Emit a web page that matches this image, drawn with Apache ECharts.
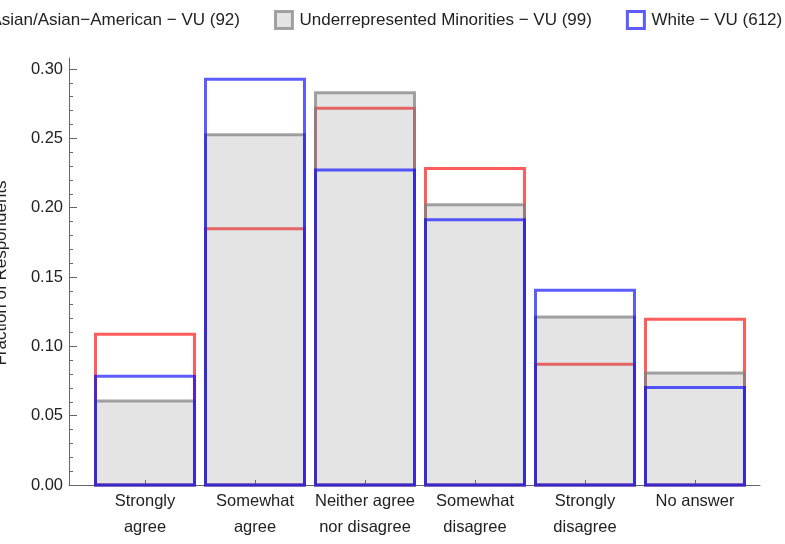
<!DOCTYPE html>
<html><head><meta charset="utf-8">
<script src="https://cdn.jsdelivr.net/npm/echarts@6/dist/echarts.min.js"></script>
<style>html,body{margin:0;padding:0;background:#fff}#c{width:785px;height:544px}</style>
</head><body><div id="c"></div>
<script>
const categories = ['Strongly\nagree', 'Somewhat\nagree', 'Neither agree\nnor disagree', 'Somewhat\ndisagree', 'Strongly\ndisagree', 'No answer'];
const categoryPositions = [0, 1, 2, 3, 4, 5];
const seriesNames = ['Asian/Asian\u2212American \u2212 VU (92)', 'Underrepresented Minorities \u2212 VU (99)', 'White \u2212 VU (612)'];
const asianValues = [0.1087, 0.1848, 0.2717, 0.2283, 0.0870, 0.1196];
const urmValues   = [0.0606, 0.2525, 0.2828, 0.2020, 0.1212, 0.0808];
const whiteValues = [0.0784, 0.2925, 0.2271, 0.1912, 0.1405, 0.0703];
const yMajorTicks = [0, 0.05, 0.10, 0.15, 0.20, 0.25, 0.30];
const yMinorTicks = [0.01, 0.02, 0.03, 0.04, 0.06, 0.07, 0.08, 0.09, 0.11, 0.12, 0.13, 0.14,
                     0.16, 0.17, 0.18, 0.19, 0.21, 0.22, 0.23, 0.24, 0.26, 0.27, 0.28, 0.29];

const FONT = 'Liberation Sans, Arial, sans-serif';
const FS = 16.5;
const styles = [
  { fill: 'rgba(0,0,0,0)', stroke: 'rgba(255,0,0,0.64)' },
  { fill: 'rgba(128,128,128,0.21)', stroke: 'rgba(128,128,128,0.72)' },
  { fill: 'rgba(0,0,0,0)', stroke: 'rgba(0,0,255,0.64)' }
];
const HALF = 0.45;

function makeSeries(idx, values) {
  return {
    type: 'custom',
    name: seriesNames[idx],
    xAxisIndex: 0, yAxisIndex: 0,
    itemStyle: { color: styles[idx].stroke },
    data: values.map((v, i) => [categoryPositions[i], v]),
    encode: { x: 0, y: 1 },
    renderItem: function (params, api) {
      const x = api.value(0), v = api.value(1);
      const p0 = api.coord([x - HALF, 0]);
      const p1 = api.coord([x + HALF, v]);
      return {
        type: 'rect',
        shape: { x: p0[0], y: p1[1], width: p1[0] - p0[0], height: p0[1] - p1[1] },
        style: { fill: styles[idx].fill, stroke: styles[idx].stroke, lineWidth: 3 }
      };
    }
  };
}

const chart = echarts.init(document.getElementById('c'), null, { renderer: 'canvas' });
const axisColor = '#666';
chart.setOption({
  animation: false,
  backgroundColor: '#fff',
  textStyle: { fontFamily: FONT },
  grid: { left: 69, right: 25, top: 58, bottom: 59, containLabel: false },
  legend: {
    left: -40, top: 5, width: 1000, orient: 'horizontal',
    itemWidth: 17, itemHeight: 17, itemGap: 34,
    textStyle: { fontSize: 17, color: '#222', fontFamily: FONT, padding: [0, 0, 0, 2] },
    data: [
      { name: seriesNames[0], icon: 'rect', itemStyle: { color: '#fff', borderColor: styles[0].stroke, borderWidth: 3 } },
      { name: seriesNames[1], icon: 'rect', itemStyle: { color: '#e4e4e4', borderColor: styles[1].stroke, borderWidth: 3 } },
      { name: seriesNames[2], icon: 'rect', itemStyle: { color: '#fff', borderColor: styles[2].stroke, borderWidth: 3 } }
    ]
  },
  xAxis: {
    type: 'value', min: -0.691, max: 5.591,
    splitLine: { show: false },
    axisLine: { show: true, onZero: false, lineStyle: { color: axisColor, width: 1 } },
    axisTick: { show: true, inside: true, length: 5, customValues: categoryPositions, lineStyle: { color: axisColor } },
    axisLabel: {
      customValues: categoryPositions, margin: 3, lineHeight: 26,
      fontSize: FS, color: '#222', fontFamily: FONT,
      formatter: (v) => categories[Math.round(v)]
    }
  },
  yAxis: [
    {
      type: 'value', min: 0, max: 0.3079,
      splitLine: { show: false },
      axisLine: { show: true, onZero: false, lineStyle: { color: axisColor, width: 1 } },
      axisTick: { show: true, inside: true, length: 8, customValues: yMajorTicks, lineStyle: { color: axisColor } },
      axisLabel: { customValues: yMajorTicks, margin: 6, fontSize: FS, color: '#222', fontFamily: FONT,
        formatter: (v) => v.toFixed(2) }
    },
    {
      type: 'value', min: 0, max: 0.3079, position: 'left',
      splitLine: { show: false },
      axisLine: { show: false, onZero: false },
      axisTick: { show: true, inside: true, length: 4, customValues: yMinorTicks, lineStyle: { color: axisColor } },
      axisLabel: { show: false }
    }
  ],
  graphic: [{
    type: 'text', x: 10, y: 273, rotation: Math.PI / 2,
    style: { text: 'Fraction of Respondents', fontSize: 17, fontFamily: FONT, fill: '#222',
      align: 'center', verticalAlign: 'bottom' }
  }],
  series: [makeSeries(0, asianValues), makeSeries(1, urmValues), makeSeries(2, whiteValues)]
});
</script>
</body></html>
